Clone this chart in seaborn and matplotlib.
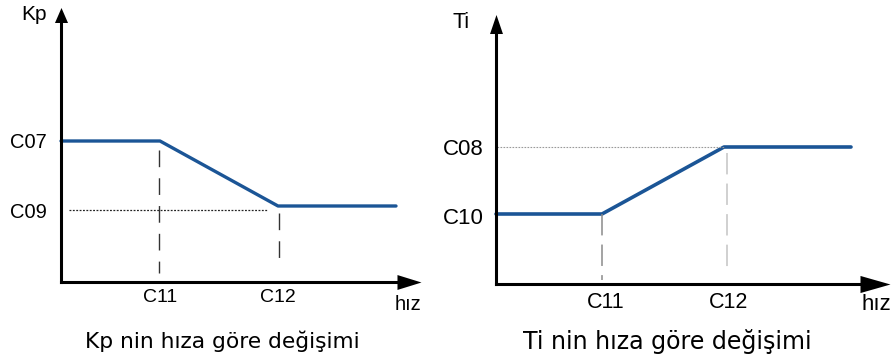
import matplotlib
matplotlib.use("Agg")
import matplotlib.pyplot as plt
import seaborn as sns
import pandas as pd

sns.set_theme(style="white")
plt.rcParams["font.family"] = ["Liberation Sans", "DejaVu Sans"]
plt.rcParams["text.color"] = "black"
plt.rcParams["xtick.labelcolor"] = "black"
plt.rcParams["ytick.labelcolor"] = "black"

W, H = 893, 361

# Speed breakpoints (axis units) and gain levels
kp_speed = [0.0, 9.9, 21.7, 33.5]
kp_value = [14.1, 14.1, 7.6, 7.6]
kp_ticks_x = [9.9, 21.7]
kp_ticks_y = [14.1, 7.1]
kp_xlabels = ["C11", "C12"]
kp_ylabels = ["C07", "C09"]

ti_speed = [0.0, 10.6, 22.8, 35.5]
ti_value = [7.0, 7.0, 13.7, 13.7]
ti_ticks_x = [11.0, 23.3]
ti_ticks_y = [13.7, 6.8]
ti_xlabels = ["C11", "C12"]
ti_ylabels = ["C08", "C10"]

blue = "#1b5596"


def px_axes(fig, x0, y_bottom, x1, y_top):
    """Axes placed from pixel edges (origin top-left)."""
    return fig.add_axes([x0 / W, (H - y_bottom) / H, (x1 - x0) / W,
                         (y_bottom - y_top) / H])


def style_axes(ax, xmax, ymax, xarrow, yarrow):
    ax.set_xlim(0, xmax)
    ax.set_ylim(0, ymax)
    for s in ("top", "right"):
        ax.spines[s].set_visible(False)
    for s in ("left", "bottom"):
        ax.spines[s].set_color("black")
        ax.spines[s].set_linewidth(2.2)
    ax.set_xlabel("")
    ax.set_ylabel("")
    ax.tick_params(length=0, labelcolor="black")
    ax.set_facecolor("none")
    # arrow heads on the axis ends: (size in points, half-width ratio)
    xs, xr = xarrow
    ys, yr = yarrow
    ax.plot(1, 0, marker=[(-1, -xr), (1, 0), (-1, xr)], ms=xs,
            color="black", mew=0, transform=ax.transAxes, clip_on=False)
    ax.plot(0, 1, marker=[(-yr, -1), (0, 1), (yr, -1)], ms=ys,
            color="black", mew=0, transform=ax.transAxes, clip_on=False)


fig = plt.figure(figsize=(W / 100, H / 100), dpi=100)

# ---- Kp panel ----
ax1 = px_axes(fig, 61, 282, 409, 14.5)
sns.lineplot(data=pd.DataFrame({"hiz": kp_speed, "Kp": kp_value}),
             x="hiz", y="Kp", ax=ax1, color=blue, lw=2.4, clip_on=False)
ax1.plot([0.8, 20.7], [7.2, 7.2], color="#222222", lw=0.9, ls=(0, (1.5, 1.2)))
ax1.plot([kp_speed[1] - 0.1] * 2, [13.2, 0.9], color="#333333", lw=1.0,
         ls=(0, (12, 8)))
ax1.plot([kp_speed[2] + 0.1] * 2, [6.9, 1.7], color="#333333", lw=1.0,
         ls=(0, (12, 8)))
style_axes(ax1, 34.8, 26.75, (17.3, 0.62), (10.8, 0.87))
ax1.set_xticks(kp_ticks_x, kp_xlabels, fontsize=14)
ax1.set_yticks(kp_ticks_y, kp_ylabels, fontsize=14.5)
ax1.tick_params(axis="x", pad=5)
ax1.tick_params(axis="y", pad=10)

# ---- Ti panel ----
ax2 = px_axes(fig, 496, 284, 875, 23.5)
sns.lineplot(data=pd.DataFrame({"hiz": ti_speed, "Ti": ti_value}),
             x="hiz", y="Ti", ax=ax2, color=blue, lw=2.6, clip_on=False)
ax2.plot([0.1, 22.8], [13.7, 13.7], color="#9a9a9a", lw=0.8,
         ls=(0, (1.5, 1.2)))
ax2.plot([ti_speed[1]] * 2, [7.0, 0.4], color="#8a8a8a", lw=1.1,
         ls=(0, (14, 6)))
ax2.plot([ti_speed[2] + 0.3] * 2, [13.1, 1.4], color="#c4c4c4", lw=1.1,
         ls=(0, (14, 6)))
style_axes(ax2, 37.9, 26.05, (21.6, 0.57), (13.7, 0.68))
ax2.set_xticks(ti_ticks_x, ti_xlabels, fontsize=15.5)
ax2.set_yticks(ti_ticks_y, ti_ylabels, fontsize=16)
ax2.tick_params(axis="x", pad=6)
ax2.tick_params(axis="y", pad=9)

# axis names
fig.text(34 / W, 1 - 14 / H, "Kp", ha="center", va="center", fontsize=15)
fig.text(461 / W, 1 - 22 / H, "Ti", ha="center", va="center", fontsize=15.5)
fig.text(408 / W, 1 - 304 / H, "hız", ha="center", va="center", fontsize=14.5)
fig.text(876 / W, 1 - 305 / H, "hız", ha="center", va="center", fontsize=16)

# captions
fig.text(222 / W, 1 - 341 / H, "Kp nin hıza göre değişimi", ha="center",
         va="center", fontsize=15.7, family=["DejaVu Sans"])
fig.text(667 / W, 1 - 341 / H, "Ti nin hıza göre değişimi", ha="center",
         va="center", fontsize=17.1, family=["DejaVu Sans"])

fig.savefig("out.png", dpi=100, facecolor="white")
